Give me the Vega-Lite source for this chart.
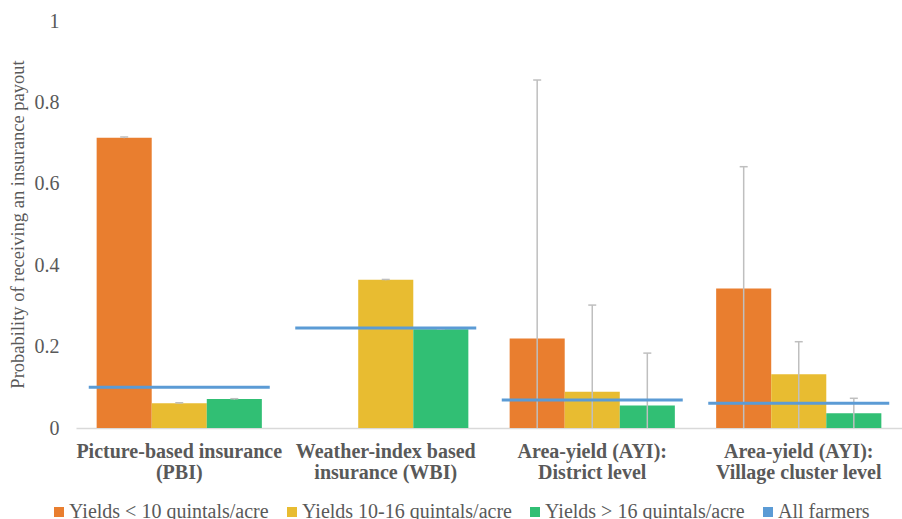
{
  "$schema": "https://vega.github.io/schema/vega-lite/v6.json",
  "autosize": "none",
  "width": 826,
  "height": 407,
  "padding": {"left": 76, "top": 21, "right": 0, "bottom": 91},
  "background": "white",
  "config": {
    "view": {"stroke": null},
    "font": "Times New Roman, Liberation Serif, serif",
    "axis": {"labelColor": "#595959", "titleColor": "#595959", "labelFont": "Times New Roman, Liberation Serif, serif", "titleFont": "Times New Roman, Liberation Serif, serif"},
    "legend": {"labelFont": "Times New Roman, Liberation Serif, serif"}
  },
  "datasets": {
    "bars": [
      {"cat": "Picture-based insurance (PBI)", "series": "Yields < 10 quintals/acre", "value": 0.713, "lower": 0.712, "upper": 0.715},
      {"cat": "Picture-based insurance (PBI)", "series": "Yields 10-16 quintals/acre", "value": 0.061, "lower": 0.060, "upper": 0.062},
      {"cat": "Picture-based insurance (PBI)", "series": "Yields > 16 quintals/acre", "value": 0.071, "lower": 0.070, "upper": 0.072},
      {"cat": "Weather-index based insurance (WBI)", "series": "Yields 10-16 quintals/acre", "value": 0.364, "lower": 0.363, "upper": 0.365},
      {"cat": "Weather-index based insurance (WBI)", "series": "Yields > 16 quintals/acre", "value": 0.2425, "lower": 0.2415, "upper": 0.2435},
      {"cat": "Area-yield (AYI): District level", "series": "Yields < 10 quintals/acre", "value": 0.22, "lower": 0, "upper": 0.855},
      {"cat": "Area-yield (AYI): District level", "series": "Yields 10-16 quintals/acre", "value": 0.089, "lower": 0, "upper": 0.302},
      {"cat": "Area-yield (AYI): District level", "series": "Yields > 16 quintals/acre", "value": 0.055, "lower": 0, "upper": 0.184},
      {"cat": "Area-yield (AYI): Village cluster level", "series": "Yields < 10 quintals/acre", "value": 0.343, "lower": 0, "upper": 0.642},
      {"cat": "Area-yield (AYI): Village cluster level", "series": "Yields 10-16 quintals/acre", "value": 0.132, "lower": 0, "upper": 0.212},
      {"cat": "Area-yield (AYI): Village cluster level", "series": "Yields > 16 quintals/acre", "value": 0.036, "lower": 0, "upper": 0.073}
    ],
    "avg": [
      {"cat": "Picture-based insurance (PBI)", "series": "All farmers", "value": 0.1},
      {"cat": "Weather-index based insurance (WBI)", "series": "All farmers", "value": 0.246},
      {"cat": "Area-yield (AYI): District level", "series": "All farmers", "value": 0.069},
      {"cat": "Area-yield (AYI): Village cluster level", "series": "All farmers", "value": 0.061}
    ]
  },
  "encoding": {
    "x": {
      "field": "cat", "type": "nominal",
      "sort": ["Picture-based insurance (PBI)", "Weather-index based insurance (WBI)", "Area-yield (AYI): District level", "Area-yield (AYI): Village cluster level"],
      "scale": {"paddingInner": 0.2, "paddingOuter": 0.1},
      "axis": {
        "title": null, "labelAngle": 0, "ticks": false, "labelPadding": 13,
        "labelFontSize": 20, "labelFontWeight": "bold", "labelLineHeight": 21, "labelBaseline": "top",
        "domainColor": "#D9D9D9", "domainWidth": 1.3, "labelLimit": 300,
        "labelExpr": "datum.label == 'Picture-based insurance (PBI)' ? ['Picture-based insurance', '(PBI)'] : datum.label == 'Weather-index based insurance (WBI)' ? ['Weather-index based', 'insurance (WBI)'] : datum.label == 'Area-yield (AYI): District level' ? ['Area-yield (AYI):', 'District level'] : ['Area-yield (AYI):', 'Village cluster level']"
      }
    }
  },
  "layer": [
    {
      "data": {"name": "bars"},
      "mark": {"type": "bar"},
      "encoding": {
        "xOffset": {"field": "series", "type": "nominal", "sort": ["Yields < 10 quintals/acre", "Yields 10-16 quintals/acre", "Yields > 16 quintals/acre"], "scale": {"domain": ["Yields < 10 quintals/acre", "Yields 10-16 quintals/acre", "Yields > 16 quintals/acre"], "paddingInner": 0, "paddingOuter": 0}},
        "y": {
          "field": "value", "type": "quantitative",
          "scale": {"domain": [0, 1]},
          "axis": {
            "title": "Probability of receiving an insurance payout",
            "values": [0, 0.2, 0.4, 0.6, 0.8, 1],
            "labelExpr": "datum.value == 0 ? '0' : datum.value == 1 ? '1' : format(datum.value, '.1f')",
            "grid": false, "ticks": false, "domain": false,
            "labelFontSize": 20, "labelPadding": 17,
            "titleFontSize": 18.5, "titleFontWeight": "normal",
            "titleX": -59, "titleY": 203, "titleAngle": -90, "titleAlign": "center", "titleBaseline": "middle"
          }
        },
        "color": {
          "field": "series", "type": "nominal",
          "scale": {
            "domain": ["Yields < 10 quintals/acre", "Yields 10-16 quintals/acre", "Yields > 16 quintals/acre", "All farmers"],
            "range": ["#E97E2F", "#E8BC31", "#31BF74", "#5B9BD5"]
          },
          "legend": {
            "title": null, "orient": "none", "direction": "horizontal",
            "legendX": -27, "legendY": 481,
            "symbolType": "square", "symbolSize": 100, "symbolStrokeWidth": 0,
            "labelFontSize": 20, "labelColor": "#595959", "labelOffset": 0,
            "columnPadding": 13, "padding": 0, "labelLimit": 400
          }
        }
      }
    },
    {
      "data": {"name": "bars"},
      "mark": {"type": "rule", "color": "#BFBFBF", "strokeWidth": 1.5},
      "encoding": {
        "xOffset": {"field": "series", "type": "nominal", "scale": {"domain": ["Yields < 10 quintals/acre", "Yields 10-16 quintals/acre", "Yields > 16 quintals/acre"], "paddingInner": 0, "paddingOuter": 0}},
        "y": {"field": "lower", "type": "quantitative"},
        "y2": {"field": "upper"}
      }
    },
    {
      "data": {"name": "bars"},
      "mark": {"type": "tick", "color": "#BFBFBF", "size": 8, "thickness": 1.5, "opacity": 1},
      "encoding": {
        "xOffset": {"field": "series", "type": "nominal", "scale": {"domain": ["Yields < 10 quintals/acre", "Yields 10-16 quintals/acre", "Yields > 16 quintals/acre"], "paddingInner": 0, "paddingOuter": 0}},
        "y": {"field": "upper", "type": "quantitative"}
      }
    },
    {
      "data": {"name": "avg"},
      "mark": {"type": "tick", "size": 181, "thickness": 3, "opacity": 1},
      "encoding": {
        "y": {"field": "value", "type": "quantitative"},
        "color": {
          "field": "series", "type": "nominal",
          "legend": {"symbolType": "square"}
        }
      }
    }
  ]
}
